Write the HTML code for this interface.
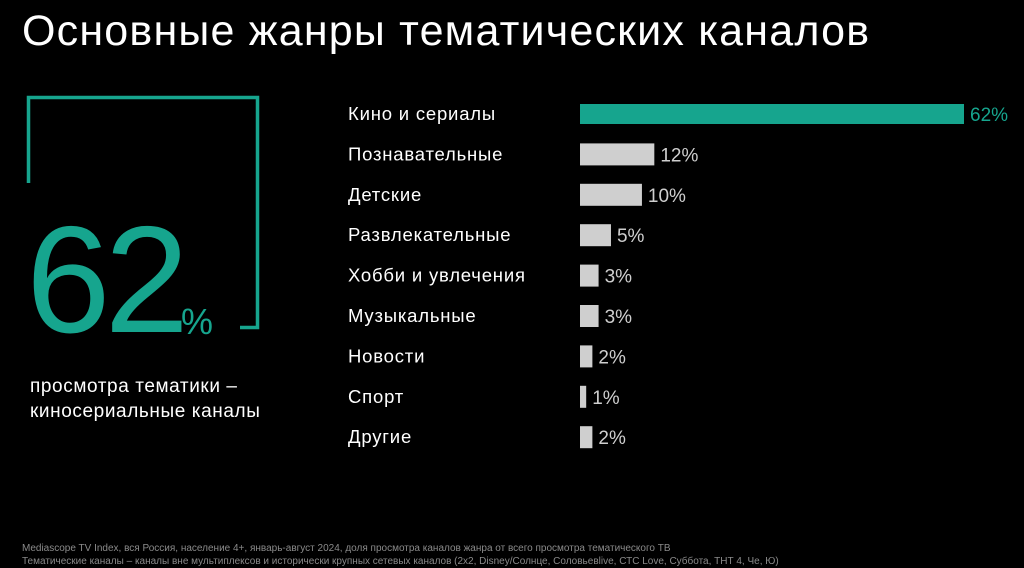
<!DOCTYPE html>
<html><head><meta charset="utf-8">
<style>
body{margin:0;width:1024px;height:568px;background:#000;overflow:hidden;font-family:"Liberation Sans","Noto Sans CJK SC",sans-serif;color:#fff;position:relative}
.t{position:absolute;white-space:nowrap}
</style></head><body>
<div class="t" style="left:22px;top:7px;font-size:43px;letter-spacing:1.2px">Основные жанры тематических каналов</div>
<svg width="1024" height="568" style="position:absolute;left:0;top:0">
<g fill="none" stroke="#16a58e" stroke-width="3.5">
<polyline points="28.5,183 28.5,97.5 257.5,97.5 257.5,327.5 240,327.5"/>
</g>
<text x="26" y="332" font-size="152" fill="#16a58e" font-family="Liberation Sans" letter-spacing="-6">62</text>
<text x="181" y="334" font-size="36" fill="#16a58e" font-family="Liberation Sans">%</text>
<text x="30" y="392" font-size="19" fill="#fff" letter-spacing="0.6">просмотра тематики –</text>
<text x="30" y="417" font-size="19" fill="#fff" letter-spacing="0.6">киносериальные каналы</text>
<g id="bars"></g>
<g fill="#8a8a8a" font-size="10">
<text x="22" y="551">Mediascope TV Index, вся Россия, население 4+, январь-август 2024, доля просмотра каналов жанра от всего просмотра тематического ТВ</text>
<text x="22" y="564">Тематические каналы – каналы вне мультиплексов и исторически крупных сетевых каналов (2x2, Disney/Солнце, Соловьевlive, СТС Love, Суббота, ТНТ 4, Че, Ю)</text>
</g>
</svg>
<script>
const categories=["Кино и сериалы","Познавательные","Детские","Развлекательные","Хобби и увлечения","Музыкальные","Новости","Спорт","Другие"];
const values=[62,12,10,5,3,3,2,1,2];
const labels=["62%","12%","10%","5%","3%","3%","2%","1%","2%"];
const NS="http://www.w3.org/2000/svg";
const g=document.getElementById('bars');
const x0=580, pxPer=384/62;
const xs=v=>v*pxPer;
const ys=i=>114+i*40.4;
categories.forEach((c,i)=>{
  const y=ys(i), w=xs(values[i]), first=i===0;
  const lab=document.createElementNS(NS,'text');
  
  
  lab.setAttribute('x',348);lab.setAttribute('y',y+6);lab.setAttribute('font-size',18.5);lab.setAttribute('letter-spacing',0.8);lab.setAttribute('fill','#fff');
  lab.textContent=c;g.appendChild(lab);
  const r=document.createElementNS(NS,'rect');
  
  
  const h=first?20:22;
  r.setAttribute('x',x0);r.setAttribute('y',y-h/2);r.setAttribute('width',w);r.setAttribute('height',h);
  r.setAttribute('fill',first?'#16a58e':'#cfcfcf');g.appendChild(r);
  const v=document.createElementNS(NS,'text');
  
  
  v.setAttribute('x',x0+w+6);v.setAttribute('y',y+7);v.setAttribute('font-size',19);
  v.setAttribute('fill',first?'#16a58e':'#cfcfcf');v.textContent=labels[i];g.appendChild(v);
});
</script>
</body></html>
